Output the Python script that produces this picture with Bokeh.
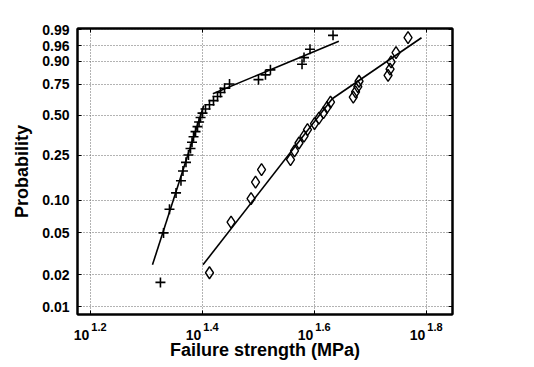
import numpy as np
from bokeh.plotting import figure
from bokeh.models import FixedTicker, LinearAxis, Range1d
from bokeh.embed import file_html
from bokeh.resources import INLINE

# Series A ("+" markers): failure strength (MPa) and cumulative probability
strength_a = [21.13, 21.40, 21.93, 22.53, 22.99, 23.18, 23.47, 23.71, 23.91, 24.06,
              24.21, 24.41, 24.61, 24.77, 24.92, 25.12, 25.43, 25.85, 26.28, 26.72,
              27.05, 27.50, 28.07, 31.62, 32.54, 33.21, 37.82, 38.13, 39.08, 42.96]
prob_a = [0.017, 0.050, 0.083, 0.117, 0.150, 0.183, 0.217, 0.250, 0.283, 0.317,
          0.350, 0.383, 0.417, 0.450, 0.483, 0.517, 0.550, 0.583, 0.617, 0.650,
          0.683, 0.717, 0.750, 0.783, 0.817, 0.850, 0.883, 0.917, 0.950, 0.983]

# Series B (diamond markers)
strength_b = [25.85, 28.25, 30.67, 31.24, 32.02, 36.07, 36.67, 37.35, 38.13, 38.68,
              39.81, 40.55, 41.31, 41.91, 42.52, 46.69, 47.13, 47.57, 47.81, 53.87,
              54.31, 54.54, 55.66, 58.48]
prob_b = [0.021, 0.063, 0.104, 0.146, 0.188, 0.229, 0.271, 0.313, 0.354, 0.396,
          0.438, 0.479, 0.521, 0.563, 0.604, 0.646, 0.688, 0.729, 0.771, 0.813,
          0.854, 0.896, 0.938, 0.979]

# Bilinear Weibull fit segments (strength MPa, probability)
fit_a_low_x = [20.45, 25.25]
fit_a_low_p = [0.025, 0.578]
fit_a_high_x = [26.21, 44.00]
fit_a_high_p = [0.673, 0.972]
fit_b_low_x = [25.17, 42.82]
fit_b_low_p = [0.025, 0.632]
fit_b_high_x = [42.82, 61.81]
fit_b_high_p = [0.632, 0.979]

# Axis ticks
prob_ticks = [0.01, 0.02, 0.05, 0.10, 0.25, 0.50, 0.75, 0.90, 0.96, 0.99]
prob_tick_labels = ["0.01", "0.02", "0.05", "0.10", "0.25", "0.50", "0.75", "0.90", "0.96", "0.99"]
x_tick_exps = [1.2, 1.4, 1.6, 1.8]          # log10 of strength
x_tick_base_label = "10"
x_tick_exp_labels = ["1.2", "1.4", "1.6", "1.8"]

FONT = "Liberation Sans"


def wb(p):
    p = np.asarray(p, dtype=float)
    return np.log(-np.log(1.0 - p))


def lg(s):
    return np.log10(np.asarray(s, dtype=float))


y_tick_vals = [float(v) for v in wb(prob_ticks)]
x_lo, x_hi = 1.1768, 1.8464
y_lo, y_hi = -4.777, 1.556
px = (x_hi - x_lo) / 375.0   # data units per pixel along x

p = figure(width=530, height=364, output_backend="svg", toolbar_location=None,
           x_range=Range1d(x_lo, x_hi), y_range=Range1d(y_lo, y_hi),
           min_border_left=77, min_border_right=78, min_border_top=28,
           min_border_bottom=50, y_axis_label="Probability")
p.background_fill_color = "white"
p.border_fill_color = "white"
p.outline_line_color = "black"
p.outline_line_width = 2

xt = FixedTicker(ticks=x_tick_exps, minor_ticks=[])
yt = FixedTicker(ticks=y_tick_vals, minor_ticks=[])


def frame_axis(ax, ticker):
    ax.ticker = ticker
    ax.major_tick_in = 4
    ax.major_tick_out = 0
    ax.major_tick_line_color = "black"
    ax.major_tick_line_width = 1
    ax.minor_tick_line_color = None
    ax.axis_line_color = "black"
    ax.axis_line_width = 2
    ax.major_label_text_font = FONT
    ax.major_label_text_font_style = "bold"
    ax.major_label_text_color = "black"
    ax.axis_label_text_font = FONT
    ax.axis_label_text_font_style = "bold"
    ax.axis_label_text_font_size = "18px"
    ax.axis_label_text_color = "black"


# main (bottom) x axis: line + inward ticks, labels drawn by label axes below
xa = p.xaxis[0]
frame_axis(xa, xt)
xa.major_label_overrides = {v: "" for v in x_tick_exps}
xa.major_label_standoff = 0

ya = p.yaxis[0]
frame_axis(ya, yt)
ya.major_label_overrides = {v: t for v, t in zip(y_tick_vals, prob_tick_labels)}
ya.major_label_standoff = 8
ya.axis_label_standoff = 7
ya.major_label_text_font_size = "14px"

right_ax = LinearAxis()
frame_axis(right_ax, yt)
right_ax.major_label_overrides = {v: "" for v in y_tick_vals}
right_ax.major_label_standoff = 0
top_ax = LinearAxis()
frame_axis(top_ax, xt)
top_ax.major_label_overrides = {v: "" for v in x_tick_exps}
top_ax.major_label_standoff = 0
p.add_layout(right_ax, "right")
p.add_layout(top_ax, "above")

# tick labels "10^e": exponent row and base row as label-only axes
exp_pos = [v + 8.5 * px for v in x_tick_exps]
base_pos = [v - 9.0 * px for v in x_tick_exps]

exp_ax = LinearAxis()
frame_axis(exp_ax, FixedTicker(ticks=exp_pos, minor_ticks=[]))
exp_ax.axis_line_color = None
exp_ax.major_tick_line_color = None
exp_ax.major_label_overrides = {v: t for v, t in zip(exp_pos, x_tick_exp_labels)}
exp_ax.major_label_text_font_size = "11px"
exp_ax.major_label_standoff = 8

base_ax = LinearAxis(axis_label="Failure strength (MPa)")
frame_axis(base_ax, FixedTicker(ticks=base_pos, minor_ticks=[]))
base_ax.axis_line_color = None
base_ax.major_tick_line_color = None
base_ax.major_label_overrides = {v: x_tick_base_label for v in base_pos}
base_ax.major_label_text_font_size = "14px"
base_ax.major_label_standoff = -4
base_ax.axis_label_standoff = -3

p.add_layout(exp_ax, "below")
p.add_layout(base_ax, "below")

p.xgrid.ticker = xt
p.ygrid.ticker = yt
for g in (p.xgrid[0], p.ygrid[0]):
    g.grid_line_color = "#666666"
    g.grid_line_dash = "1 2"
    g.grid_line_width = 1

# fit lines
for sx, sp in ((fit_a_low_x, fit_a_low_p), (fit_a_high_x, fit_a_high_p),
               (fit_b_low_x, fit_b_low_p), (fit_b_high_x, fit_b_high_p)):
    p.line(lg(sx), wb(sp), line_color="black", line_width=1.6)

# data markers
p.scatter(lg(strength_a), wb(prob_a), marker="cross", size=10,
          line_color="black", line_width=1.6)
p.scatter(lg(strength_b), wb(prob_b), marker="diamond", size=12,
          line_color="black", line_width=1.4, fill_color=None)

open("out.html", "w").write(file_html(p, INLINE))
